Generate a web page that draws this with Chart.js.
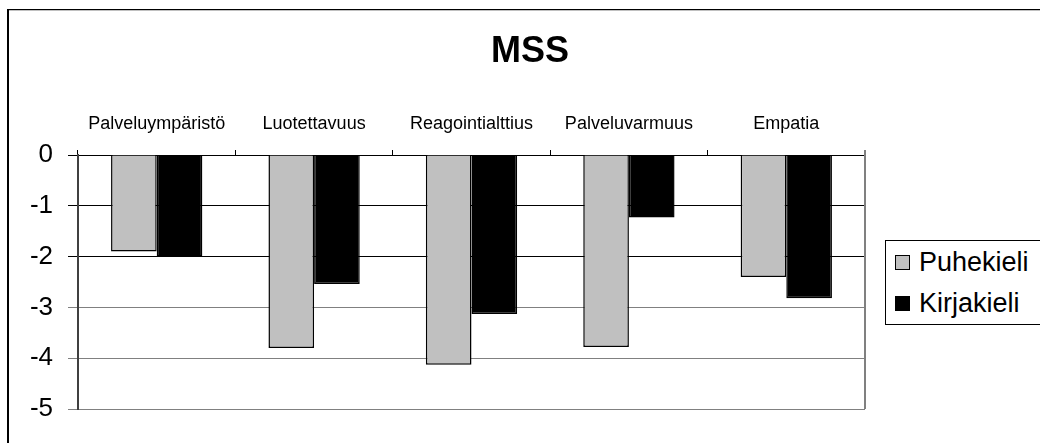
<!DOCTYPE html>
<html>
<head>
<meta charset="utf-8">
<script src="https://cdn.jsdelivr.net/npm/chart.js@4"></script>
<style>
  html, body { margin: 0; padding: 0; background: #fff; }
  body { width: 1040px; height: 443px; position: relative; overflow: hidden; }
  #frame {
    position: absolute; left: 7px; top: 9px; width: 1100px; height: 500px;
    border-left: 2px solid #000; border-top: 1px solid #000;
    box-shadow: inset 0 1px 0 #c0c0c0;
  }
  #wrap { position: absolute; left: 0; top: 0; width: 1040px; height: 443px; }
  #legend {
    position: absolute; left: 885px; top: 240px; width: 200px; height: 83px;
    border: 1px solid #000; background: #fff;
    font-family: "Liberation Sans", Arial, sans-serif; font-size: 27px; color: #000;
  }
  .item { position: absolute; left: 9px; white-space: nowrap; line-height: 1; }
  .swatch { display: inline-block; width: 13px; height: 13px; border: 1px solid #000;
    margin-right: 9px; vertical-align: 1px; }
</style>
</head>
<body>
<div id="frame"></div>
<div id="wrap"><canvas id="chart" width="1040" height="443"></canvas></div>
<div id="legend"></div>
<script>
// Data
const categories = ['Palveluympäristö', 'Luotettavuus', 'Reagointialttius', 'Palveluvarmuus', 'Empatia'];
const puhekieli  = [-1.9, -3.8, -4.13, -3.78, -2.4];
const kirjakieli = [-2.0, -2.54, -3.13, -1.23, -2.82];
const seriesNames = ['Puhekieli', 'Kirjakieli'];
const seriesColors = ['#c0c0c0', '#000000'];
const yTicks = [0, -1, -2, -3, -4, -5];

const FONT = '"Liberation Sans", Arial, sans-serif';

// title + right edge of the plot area
const extras = {
  id: 'extras',
  afterDraw(chart) {
    const ctx = chart.ctx;
    const a = chart.chartArea;
    ctx.save();
    ctx.strokeStyle = '#808080';
    ctx.lineWidth = 2;
    ctx.beginPath();
    ctx.moveTo(a.right, a.top - 5);
    ctx.lineTo(a.right, a.bottom);
    ctx.stroke();
    ctx.fillStyle = '#000';
    ctx.font = 'bold 36px ' + FONT;
    ctx.textAlign = 'center';
    ctx.textBaseline = 'alphabetic';
    ctx.fillText('MSS', 530, 62);
    ctx.restore();
  }
};

const gridColor = ctx => (ctx.tick && ctx.tick.value < -2.5) ? '#808080' : '#000000';

new Chart(document.getElementById('chart'), {
  type: 'bar',
  data: {
    labels: categories,
    datasets: [
      { label: seriesNames[0], data: puhekieli, backgroundColor: seriesColors[0], borderColor: '#000', borderWidth: 1.5 },
      { label: seriesNames[1], data: kirjakieli, backgroundColor: seriesColors[1], borderColor: '#000', borderWidth: 1.5 }
    ]
  },
  options: {
    responsive: false,
    animation: false,
    layout: { padding: { top: 0, left: 0, right: 175, bottom: 34 } },
    datasets: { bar: { categoryPercentage: 0.58, barPercentage: 1 } },
    plugins: { legend: { display: false }, tooltip: { enabled: false }, title: { display: false } },
    scales: {
      x: {
        position: 'top',
        afterFit: s => { s.height = 155; },
        grid: { offset: true, drawOnChartArea: false, tickLength: 5, color: '#000', tickColor: '#000' },
        border: { color: '#000', width: 1 },
        ticks: { color: '#000', font: { family: FONT, size: 18 }, padding: 15, maxRotation: 0, autoSkip: false }
      },
      y: {
        min: Math.min(...yTicks),
        max: Math.max(...yTicks),
        afterFit: s => { s.width = 78; },
        afterBuildTicks: s => { s.ticks = yTicks.map(v => ({ value: v })); },
        grid: { color: gridColor, tickColor: gridColor, tickLength: 10, lineWidth: 1 },
        border: { color: '#404040', width: 2 },
        ticks: { color: '#000', font: { family: FONT, size: 26 }, padding: 15, stepSize: 1 }
      }
    }
  },
  plugins: [extras]
});

// legend built from the series
const legend = document.getElementById('legend');
seriesNames.forEach((name, i) => {
  const d = document.createElement('div');
  d.className = 'item';
  d.style.top = (8 + i * 41) + 'px';
  d.innerHTML = '<span class="swatch" style="background:' + seriesColors[i] + '"></span>' + name;
  legend.appendChild(d);
});
</script>
</body>
</html>
